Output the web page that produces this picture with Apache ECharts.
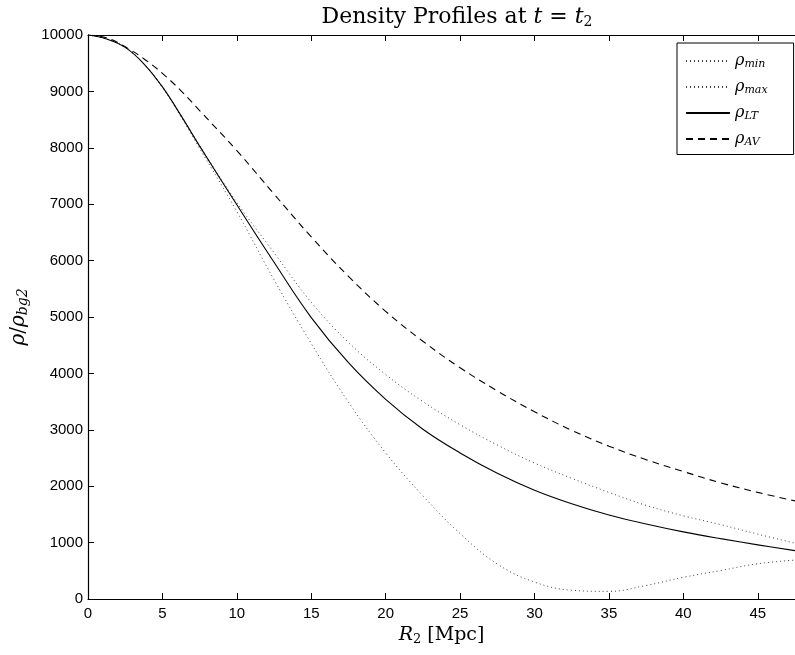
<!DOCTYPE html>
<html>
<head>
<meta charset="utf-8">
<script src="https://cdn.jsdelivr.net/npm/echarts@6/dist/echarts.min.js"></script>
<style>
html,body{margin:0;padding:0;background:#fff;}
#chart{width:795px;height:655px;}
</style>
</head>
<body>
<div id="chart"></div>
<script>
// Data
const radius = [0, 1.25, 2.5, 3.75, 5, 6.25, 7.5, 10, 12.5, 15, 17.5, 20, 22.5, 25, 27.5, 30, 32.5, 35, 37.5, 40, 42.5, 45, 47.5];
const rhoMin = [10000, 9930, 9780, 9490, 9070, 8550, 7990, 6870, 5660, 4530, 3490, 2590, 1830, 1160, 620, 300, 155, 135, 240, 385, 505, 625, 690];
const rhoMax = [10000, 9930, 9780, 9490, 9085, 8575, 8040, 7030, 6140, 5260, 4550, 3980, 3500, 3090, 2730, 2410, 2140, 1890, 1660, 1475, 1320, 1150, 990];
const rhoLT  = [10000, 9930, 9780, 9490, 9080, 8570, 8030, 6990, 5970, 4990, 4190, 3540, 3010, 2590, 2230, 1930, 1690, 1490, 1330, 1190, 1070, 960, 857];
const rhoAV  = [10000, 9950, 9790, 9580, 9320, 9010, 8660, 7950, 7180, 6420, 5720, 5100, 4570, 4100, 3690, 3320, 2990, 2710, 2470, 2260, 2060, 1890, 1740];
const xTicks = [0, 5, 10, 15, 20, 25, 30, 35, 40, 45];
const yTicks = [0, 1000, 2000, 3000, 4000, 5000, 6000, 7000, 8000, 9000, 10000];
const seriesNames = ['min', 'max', 'LT', 'AV'];

const pairs = arr => radius.map((r, i) => [r, arr[i]]);
const serif = '"DejaVu Serif", serif';
const sans = '"Liberation Sans", Arial, sans-serif';

const chart = echarts.init(document.getElementById('chart'), null, {renderer: 'canvas'});

const mkSeries = (name, data, lineType) => ({
  name: name,
  type: 'line',
  data: pairs(data),
  smooth: 0.4,
  symbol: 'none',
  animation: false,
  itemStyle: {color: '#000'},
  lineStyle: {
    color: '#000',
    width: lineType === 'dotted' ? 1 : 1.1,
    type: lineType === 'dotted' ? [1, 3] : (lineType === 'dashed' ? [7, 5] : 'solid'),
    opacity: lineType === 'dotted' ? 0.75 : 1
  },
  xAxisIndex: 0, yAxisIndex: 0
});

const option = {
  backgroundColor: '#fff',
  animation: false,
  title: {
    text: 'Density Profiles at {i|t} = {i|t}{s|2}',
    left: 452, top: 1, textAlign: 'center',
    textStyle: {
      fontFamily: serif, fontSize: 22, fontWeight: 'normal', color: '#000',
      rich: {
        i: {fontFamily: serif, fontStyle: 'italic', fontSize: 22, color: '#000'},
        s: {fontFamily: serif, fontSize: 14, color: '#000', verticalAlign: 'bottom', padding: [9, 0, 0, 0]}
      }
    }
  },
  grid: {left: 88, right: 0, top: 35, bottom: 56},
  legend: {
    orient: 'vertical',
    left: 677, top: 43,
    padding: [10, 26, 7, 8],
    itemGap: 9.5,
    itemWidth: 44, itemHeight: 18,
    borderColor: '#000', borderWidth: 1, backgroundColor: '#fff',
    itemStyle: {opacity: 0},
    data: seriesNames,
    formatter: n => '{r|ρ}{s|' + n + '}',
    textStyle: {
      color: '#000',
      rich: {
        r: {fontFamily: serif, fontStyle: 'italic', fontSize: 16, color: '#000'},
        s: {fontFamily: serif, fontStyle: 'italic', fontSize: 11, color: '#000', verticalAlign: 'bottom', padding: [6, 0, 0, 0]}
      }
    }
  },
  xAxis: [{
    type: 'value', min: 0, max: 47.5, interval: 5, position: 'bottom',
    name: '{i|R}{s|2} [Mpc]', nameLocation: 'middle', nameGap: 24,
    nameTextStyle: {
      fontFamily: serif, fontSize: 19, color: '#000',
      rich: {
        i: {fontFamily: serif, fontStyle: 'italic', fontSize: 19, color: '#000'},
        s: {fontFamily: serif, fontSize: 13, color: '#000', verticalAlign: 'bottom', padding: [8, 0, 0, 0]}
      }
    },
    axisLine: {show: true, lineStyle: {color: '#000', width: 1.2}},
    axisTick: {show: true, inside: true, length: 6, lineStyle: {color: '#000', width: 1}},
    axisLabel: {show: true, color: '#000', fontFamily: sans, fontSize: 15, margin: 7, showMaxLabel: false,
      formatter: v => xTicks.indexOf(v) >= 0 ? String(v) : ''},
    splitLine: {show: false}
  }, {
    type: 'value', min: 0, max: 47.5, interval: 5, position: 'top',
    axisLine: {show: true, lineStyle: {color: '#000', width: 1.2}},
    axisTick: {show: true, inside: true, length: 6, lineStyle: {color: '#000', width: 1}},
    axisLabel: {show: false},
    splitLine: {show: false}
  }],
  yAxis: [{
    type: 'value', min: 0, max: 10000, interval: 1000, position: 'left',
    name: '{r|ρ}{m|/}{r|ρ}{s|bg2}', nameLocation: 'middle', nameGap: 54, nameRotate: 90,
    nameTextStyle: {
      color: '#000',
      rich: {
        r: {fontFamily: serif, fontStyle: 'italic', fontSize: 20, color: '#000'},
        m: {fontFamily: serif, fontSize: 20, color: '#000'},
        s: {fontFamily: serif, fontStyle: 'italic', fontSize: 14, color: '#000', verticalAlign: 'bottom', padding: [9, 0, 0, 0]}
      }
    },
    axisLine: {show: true, lineStyle: {color: '#000', width: 1.2}},
    axisTick: {show: true, inside: true, length: 6, lineStyle: {color: '#000', width: 1}},
    axisLabel: {show: true, color: '#000', fontFamily: sans, fontSize: 15, margin: 5,
      formatter: v => yTicks.indexOf(v) >= 0 ? String(v) : ''},
    splitLine: {show: false}
  }],
  series: [
    mkSeries('min', rhoMin, 'dotted'),
    mkSeries('max', rhoMax, 'dotted'),
    mkSeries('LT', rhoLT, 'solid'),
    mkSeries('AV', rhoAV, 'dashed')
  ]
};
chart.setOption(option);
</script>
</body>
</html>
